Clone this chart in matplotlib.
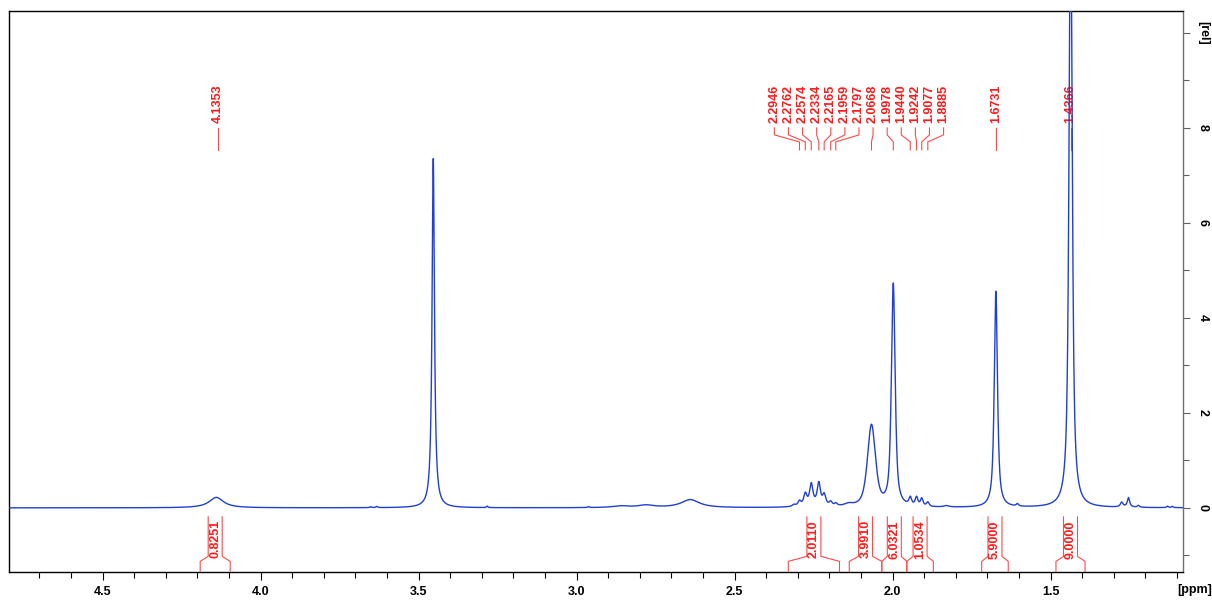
import numpy as np
import matplotlib
matplotlib.use("Agg")
import matplotlib.pyplot as plt
from matplotlib.ticker import MultipleLocator

plt.rcParams['font.family'] = ['Liberation Sans', 'DejaVu Sans']
plt.rcParams['font.weight'] = 'bold'

# ---- spectrum peak list (ppm, height [rel], fwhm [ppm], lorentzian fraction) ----
peak_ppm = [4.140, 3.652, 3.632, 3.4535, 3.283, 2.962, 2.86, 2.78, 2.64,
            2.312, 2.2946, 2.2762, 2.2574, 2.2334, 2.2165, 2.1959, 2.1797, 2.25, 2.14,
            2.0668, 1.9978, 1.9440, 1.9242, 1.9077, 1.8885, 1.83,
            1.6731, 1.605, 1.4366, 1.275, 1.2535, 1.222, 1.13, 1.115]
peak_height = [0.22, 0.02, 0.025, 7.35, 0.03, 0.02, 0.035, 0.05, 0.17,
               0.04, 0.1, 0.24, 0.42, 0.45, 0.22, 0.08, 0.05, 0.06, 0.05,
               1.72, 4.68, 0.16, 0.18, 0.16, 0.09, 0.03,
               4.55, 0.05, 13.0, 0.1, 0.2, 0.04, 0.03, 0.025]
peak_fwhm = [0.055, 0.006, 0.006, 0.009, 0.005, 0.006, 0.06, 0.06, 0.07,
             0.012, 0.011, 0.012, 0.012, 0.012, 0.012, 0.011, 0.011, 0.06, 0.03,
             0.030, 0.014, 0.010, 0.010, 0.010, 0.010, 0.02,
             0.012, 0.008, 0.012, 0.01, 0.009, 0.008, 0.006, 0.006]
peak_eta = [1.0, 1.0, 1.0, 1.0, 1.0, 1.0, 1.0, 1.0, 1.0,
            1.0, 0.8, 0.8, 0.8, 0.8, 0.8, 0.8, 0.8, 1.0, 1.0,
            0.6, 0.7, 0.8, 0.8, 0.8, 0.8, 1.0,
            0.8, 1.0, 0.8, 1.0, 1.0, 1.0, 1.0, 1.0]

# ---- peak pick labels ----
label_ppm = [4.1353, 2.2946, 2.2762, 2.2574, 2.2334, 2.2165, 2.1959, 2.1797,
             2.0668, 1.9978, 1.9440, 1.9242, 1.9077, 1.8885, 1.6731, 1.4366]

# ---- integrals ----
integral_start = [4.191, 2.330, 2.137, 2.034, 1.955, 1.718, 1.483]
integral_end = [4.096, 2.168, 2.034, 1.955, 1.871, 1.634, 1.391]
integral_value = ['0.8251', '2.0110', '3.9910', '6.0321', '1.0534', '5.9000', '9.0000']

x_ticks = [4.5, 4.0, 3.5, 3.0, 2.5, 2.0, 1.5]
y_ticks = [0, 2, 4, 6, 8, 10]
y_ticklabels = ['0', '2', '4', '6', '8', '[rel]']

XMIN, XMAX = 4.796, 1.081
YMIN, YMAX = -1.35, 10.46

# ---- build spectrum ----
ppm = np.linspace(4.82, 1.06, 24000)
spec = np.zeros_like(ppm)
for c, h, w, eta in zip(peak_ppm, peak_height, peak_fwhm, peak_eta):
    d = (ppm - c) / w
    lor = 1.0 / (1.0 + 4.0 * d ** 2)
    gau = np.exp(-4.0 * np.log(2) * d ** 2)
    spec += h * (eta * lor + (1 - eta) * gau)

W, H = 1212, 603
fig = plt.figure(figsize=(W / 100, H / 100), dpi=100)
L, R, T, B = 9, 1183, 11, 572
ax = fig.add_axes([L / W, 1 - B / H, (R - L) / W, (B - T) / H])
ax.set_xlim(XMIN, XMAX)
ax.set_ylim(YMIN, YMAX)

ax.plot(ppm, spec, color='#1f3fd6', lw=1.0, zorder=5)

px_per_ppm = (R - L) / (XMIN - XMAX)
px_per_unit = (B - T) / (YMAX - YMIN)

red_line = '#ff4a4a'

# ---- peak labels with spreading ----
def spread_positions(vals, min_gap):
    vals = np.asarray(vals, dtype=float)
    order = np.argsort(vals)
    v = vals[order]
    groups = [[i] for i in range(len(v))]
    centers = list(v)
    changed = True
    while changed:
        changed = False
        for g in range(len(groups) - 1):
            n1, n2 = len(groups[g]), len(groups[g + 1])
            right_end = centers[g] + (n1 - 1) / 2 * min_gap
            left_start = centers[g + 1] - (n2 - 1) / 2 * min_gap
            if left_start - right_end < min_gap:
                merged = groups[g] + groups[g + 1]
                centers[g] = float(np.mean(v[merged]))
                groups[g] = merged
                del groups[g + 1]
                del centers[g + 1]
                changed = True
                break
    out = np.empty(len(v))
    for g, c in zip(groups, centers):
        n = len(g)
        for k, idx in enumerate(g):
            out[order[idx]] = c + (k - (n - 1) / 2) * min_gap
    return out

lab_pos = spread_positions(label_ppm, 14.1 / px_per_ppm)
def ypix(p):
    return (508 - p) / px_per_unit
for p, lx in zip(label_ppm, lab_pos):
    ax.plot([lx, lx, p, p], [ypix(128), ypix(135), ypix(142), ypix(150)],
            color=red_line, lw=0.8, zorder=3)
    ax.text(lx, ypix(123), f'{p:.4f}', rotation=90, ha='center', va='bottom',
            color='#ff1a1a', fontsize=9, fontweight='bold', zorder=4)

# ---- integrals ----
hw = 7.0 / px_per_ppm
for s, e, val in zip(integral_start, integral_end, integral_value):
    c = (s + e) / 2
    yb, yo, yi, yt = YMIN, ypix(561.5), ypix(556.5), ypix(517)
    ax.plot([s, s, c + hw, c + hw], [yb, yo, yi, yt], color=red_line, lw=0.8, zorder=3)
    ax.plot([e, e, c - hw, c - hw], [yb, yo, yi, yt], color=red_line, lw=0.8, zorder=3)
    ax.text(c, ypix(539.5), val, rotation=90, ha='center', va='center',
            color='#ff1a1a', fontsize=9, fontweight='bold', zorder=4)

# ---- axes styling ----
for side in ['left', 'top', 'bottom']:
    ax.spines[side].set_color('black')
    ax.spines[side].set_linewidth(1.0)
ax.spines['right'].set_color('#707070')
ax.spines['right'].set_linewidth(1.0)

ax.set_xticks(x_ticks)
ax.set_xticklabels([f'{t:.1f}' for t in x_ticks])
ax.xaxis.set_minor_locator(MultipleLocator(0.1))
ax.tick_params(axis='x', which='major', direction='out', length=6, width=0.8,
               pad=4, labelsize=9, colors='black')
ax.tick_params(axis='x', which='minor', direction='out', length=4, width=0.8)
ax.xaxis.set_ticks_position('bottom')

ax.yaxis.tick_right()
ax.set_yticks(y_ticks)
ax.set_yticklabels(y_ticklabels, rotation=-90, va='center')
ax.yaxis.set_minor_locator(MultipleLocator(1))
ax.tick_params(axis='y', which='major', direction='out', length=5, width=0.8,
               pad=5, labelsize=9, color='#606060', labelcolor='black')
ax.tick_params(axis='y', which='minor', direction='out', length=4, width=0.8,
               color='#606060')

for lbl in ax.get_xticklabels() + ax.get_yticklabels():
    lbl.set_fontweight('bold')

fig.text(1195 / W, 1 - 590 / H, '[ppm]', ha='center', va='center',
         fontsize=9, fontweight='bold')

fig.savefig('out.png', dpi=100)
